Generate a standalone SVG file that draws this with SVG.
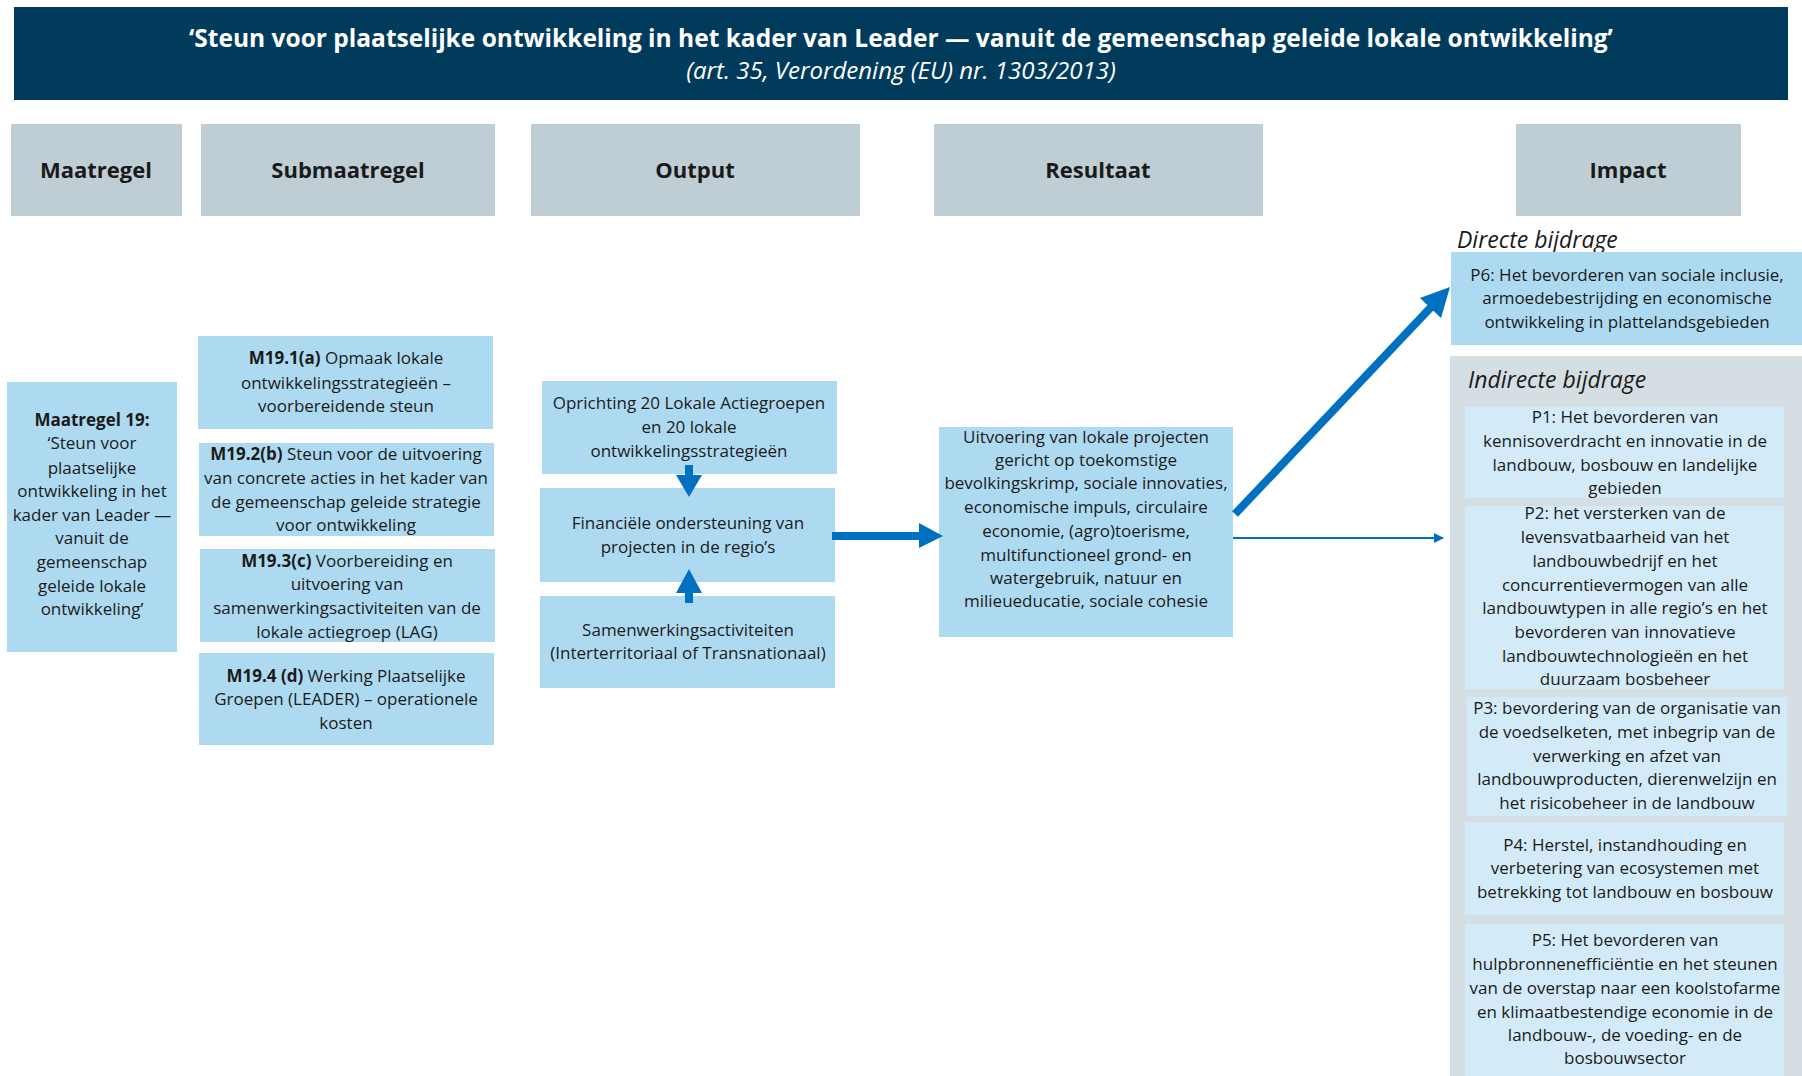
<svg xmlns="http://www.w3.org/2000/svg" width="1802" height="1076" viewBox="0 0 1802 1076">
<style>
text{font-family:"Open Sans","Noto Sans",sans-serif;fill:#1a1a1a;}
.t{font-size:17px;text-anchor:middle;}
.b{font-weight:bold;}
.hd{font-size:22px;font-weight:bold;text-anchor:middle;}
.box{fill:#AEDAF1;}
.hbox{fill:#BFCED4;}
.pbox{fill:#D3EBF8;}
.it{font-size:23px;font-style:italic;}
</style>
<defs>
<marker id="thin" viewBox="0 0 10 10" refX="9" refY="5" markerWidth="5" markerHeight="5" orient="auto" markerUnits="strokeWidth"><path d="M0,0 L10,5 L0,10 z" fill="#0070C0"/></marker>
</defs>
<rect width="1802" height="1076" fill="#fff"/>
<g id="title">
<rect x="14" y="7" width="1774" height="93" fill="#003B5C"/>
<text x="901" y="47" style="font-size:24.5px;font-weight:bold;fill:#fff;text-anchor:middle">‘Steun voor plaatselijke ontwikkeling in het kader van Leader — vanuit de gemeenschap geleide lokale ontwikkeling’</text>
<text x="901" y="79" style="font-size:24px;font-style:italic;fill:#fff;text-anchor:middle">(art. 35, Verordening (EU) nr. 1303/2013)</text>
</g>
<g id="headers">
<rect class="hbox" x="11" y="124" width="171" height="92"/>
<text class="hd" x="96" y="178">Maatregel</text>
<rect class="hbox" x="201" y="124" width="294" height="92"/>
<text class="hd" x="348" y="178">Submaatregel</text>
<rect class="hbox" x="531" y="124" width="329" height="92"/>
<text class="hd" x="695" y="178">Output</text>
<rect class="hbox" x="934" y="124" width="329" height="92"/>
<text class="hd" x="1098" y="178">Resultaat</text>
<rect class="hbox" x="1516" y="124" width="225" height="92"/>
<text class="hd" x="1628" y="178">Impact</text>
</g>
<g id="m19">
<rect class="box" x="7" y="382" width="170" height="270"/>
<text class="t" x="92"><tspan class="b" x="92" y="426">Maatregel 19:</tspan><tspan x="92" y="449">‘Steun voor</tspan><tspan x="92" y="474">plaatselijke</tspan><tspan x="92" y="497">ontwikkeling in het</tspan><tspan x="92" y="521">kader van Leader —</tspan><tspan x="92" y="544">vanuit de</tspan><tspan x="92" y="568">gemeenschap</tspan><tspan x="92" y="592">geleide lokale</tspan><tspan x="92" y="615">ontwikkeling’</tspan></text>
</g>
<g id="m19-1">
<rect class="box" x="198" y="336" width="295" height="93"/>
<text class="t"><tspan x="346" y="364"><tspan class="b">M19.1(a)</tspan> Opmaak lokale</tspan><tspan x="346" y="389">ontwikkelingsstrategieën –</tspan><tspan x="346" y="412">voorbereidende steun</tspan></text>
</g>
<g id="m19-2">
<rect class="box" x="199" y="443" width="295" height="93"/>
<text class="t"><tspan x="346" y="460"><tspan class="b">M19.2(b)</tspan> Steun voor de uitvoering</tspan><tspan x="346" y="484">van concrete acties in het kader van</tspan><tspan x="346" y="508">de gemeenschap geleide strategie</tspan><tspan x="346" y="531">voor ontwikkeling</tspan></text>
</g>
<g id="m19-3">
<rect class="box" x="200" y="549" width="295" height="93"/>
<text class="t"><tspan x="347" y="567"><tspan class="b">M19.3(c)</tspan> Voorbereiding en</tspan><tspan x="347" y="590">uitvoering van</tspan><tspan x="347" y="614">samenwerkingsactiviteiten van de</tspan><tspan x="347" y="638">lokale actiegroep (LAG)</tspan></text>
</g>
<g id="m19-4">
<rect class="box" x="199" y="653" width="295" height="92"/>
<text class="t"><tspan x="346" y="682"><tspan class="b">M19.4 (d)</tspan> Werking Plaatselijke</tspan><tspan x="346" y="705">Groepen (LEADER) – operationele</tspan><tspan x="346" y="729">kosten</tspan></text>
</g>
<g id="out1">
<rect class="box" x="542" y="381" width="295" height="93"/>
<text class="t"><tspan x="689" y="409">Oprichting 20 Lokale Actiegroepen</tspan><tspan x="689" y="433">en 20 lokale</tspan><tspan x="689" y="457">ontwikkelingsstrategieën</tspan></text>
</g>
<g id="out2">
<rect class="box" x="540" y="488" width="295" height="94"/>
<text class="t"><tspan x="688" y="529">Financiële ondersteuning van</tspan><tspan x="688" y="553">projecten in de regio’s</tspan></text>
</g>
<g id="out3">
<rect class="box" x="540" y="596" width="295" height="92"/>
<text class="t"><tspan x="688" y="636">Samenwerkingsactiviteiten</tspan><tspan x="688" y="659">(Interterritoriaal of Transnationaal)</tspan></text>
</g>
<g id="result">
<rect class="box" x="939" y="427" width="294" height="210"/>
<text class="t"><tspan x="1086" y="443">Uitvoering van lokale projecten</tspan><tspan x="1086" y="466">gericht op toekomstige</tspan><tspan x="1086" y="489">bevolkingskrimp, sociale innovaties,</tspan><tspan x="1086" y="513">economische impuls, circulaire</tspan><tspan x="1086" y="537">economie, (agro)toerisme,</tspan><tspan x="1086" y="561">multifunctioneel grond- en</tspan><tspan x="1086" y="584">watergebruik, natuur en</tspan><tspan x="1086" y="607">milieueducatie, sociale cohesie</tspan></text>
</g>
<g id="direct">
<text class="it" x="1457" y="248">Directe bijdrage</text>
<rect class="box" x="1451" y="252" width="351" height="93"/>
<text class="t"><tspan x="1627" y="281">P6: Het bevorderen van sociale inclusie,</tspan><tspan x="1627" y="304">armoedebestrijding en economische</tspan><tspan x="1627" y="328">ontwikkeling in plattelandsgebieden</tspan></text>
</g>
<g id="indirect">
<rect x="1450" y="356" width="352" height="720" fill="#D5DFE3"/>
<text class="it" x="1468" y="388">Indirecte bijdrage</text>
</g>
<g id="p1">
<rect class="pbox" x="1465" y="407" width="319" height="91"/>
<text class="t"><tspan x="1625" y="423">P1: Het bevorderen van</tspan><tspan x="1625" y="447">kennisoverdracht en innovatie in de</tspan><tspan x="1625" y="471">landbouw, bosbouw en landelijke</tspan><tspan x="1625" y="494">gebieden</tspan></text>
</g>
<g id="p2">
<rect class="pbox" x="1465" y="506" width="319" height="183"/>
<text class="t"><tspan x="1625" y="519">P2:  het versterken van de</tspan><tspan x="1625" y="543">levensvatbaarheid van het</tspan><tspan x="1625" y="567">landbouwbedrijf en het</tspan><tspan x="1625" y="591">concurrentievermogen van alle</tspan><tspan x="1625" y="614">landbouwtypen in alle regio’s en het</tspan><tspan x="1625" y="638">bevorderen van innovatieve</tspan><tspan x="1625" y="662">landbouwtechnologieën en het</tspan><tspan x="1625" y="685">duurzaam bosbeheer</tspan></text>
</g>
<g id="p3">
<rect class="pbox" x="1467" y="697" width="320" height="119"/>
<text class="t"><tspan x="1627" y="714">P3: bevordering van de organisatie van</tspan><tspan x="1627" y="738">de voedselketen, met inbegrip van de</tspan><tspan x="1627" y="762">verwerking en afzet van</tspan><tspan x="1627" y="785">landbouwproducten, dierenwelzijn en</tspan><tspan x="1627" y="809">het risicobeheer in de landbouw</tspan></text>
</g>
<g id="p4">
<rect class="pbox" x="1465" y="822" width="319" height="93"/>
<text class="t"><tspan x="1625" y="851">P4: Herstel, instandhouding en</tspan><tspan x="1625" y="874">verbetering van ecosystemen met</tspan><tspan x="1625" y="898">betrekking tot landbouw en bosbouw</tspan></text>
</g>
<g id="p5">
<rect class="pbox" x="1465" y="924" width="319" height="152"/>
<text class="t"><tspan x="1625" y="946">P5: Het bevorderen van</tspan><tspan x="1625" y="970">hulpbronnenefficiëntie en het steunen</tspan><tspan x="1625" y="994">van de overstap naar een koolstofarme</tspan><tspan x="1625" y="1018">en klimaatbestendige economie in de</tspan><tspan x="1625" y="1041">landbouw-, de voeding- en de</tspan><tspan x="1625" y="1064">bosbouwsector</tspan></text>
</g>
<g id="connectors" fill="#0070C0">
<polygon points="685,465 693,465 693,475 702,475 689,497 676,475 685,475"/>
<polygon points="689,569 702,593 693,593 693,603 685,603 685,593 676,593"/>
<polygon points="832,532 919,532 919,523 943,536 919,548 919,540 832,540"/>
<line x1="1235" y1="514" x2="1434" y2="304" stroke="#0070C0" stroke-width="8"/>
<polygon points="1450,287 1441,318 1420,298"/>
<line x1="1233" y1="538" x2="1443" y2="538" stroke="#0070C0" stroke-width="2" marker-end="url(#thin)"/>
</g>
</svg>
